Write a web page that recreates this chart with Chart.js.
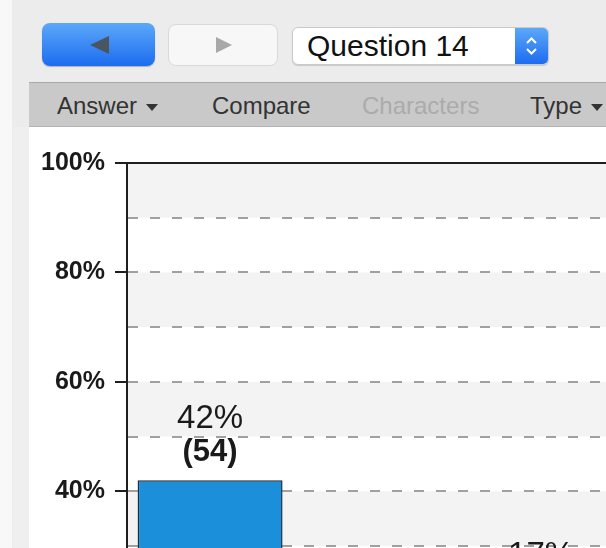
<!DOCTYPE html>
<html>
<head>
<meta charset="utf-8">
<script src="https://cdn.jsdelivr.net/npm/chart.js@4/dist/chart.umd.min.js"></script>
<style>
 html, body { margin: 0; padding: 0; width: 606px; height: 548px; overflow: hidden; background: #f8f8f8; font-family: "Liberation Sans", Arial, sans-serif; }
 .abs { position: absolute; }
 #win { left: 12px; top: 0; width: 594px; height: 548px; background: #ececec; }
 #back { left: 42px; top: 23px; width: 113px; height: 43px; border-radius: 8px; background: linear-gradient(#5ba8f9, #1d6cf0); box-shadow: 0 1px 1px rgba(0,0,0,0.25); }
 #back i { position: absolute; left: 48px; top: 13px; width: 0; height: 0; border-top: 9px solid transparent; border-bottom: 9px solid transparent; border-right: 19px solid #4a5560; }
 #fwd { left: 168px; top: 24px; width: 108px; height: 40px; border-radius: 8px; background: #f7f7f7; border: 1px solid #d9d9d9; }
 #fwd i { position: absolute; left: 47px; top: 12px; width: 0; height: 0; border-top: 8px solid transparent; border-bottom: 8px solid transparent; border-left: 16px solid #a8a8a8; }
 #pick { left: 292px; top: 27px; width: 255px; height: 36px; border-radius: 6px; background: #fff; border: 1px solid #c9c9c9; box-shadow: 0 1px 1px rgba(0,0,0,0.15); overflow: hidden; }
 #pick span { position: absolute; left: 14px; top: 1px; font-size: 30px; color: #111; }
 #pick svg { position: absolute; right: 0; top: 0; }
 #bar { left: 29px; top: 82px; width: 577px; height: 43px; background: #c9c9c9; border-top: 1px solid #a8a8a8; border-bottom: 1px solid #b4b4b4; }
 #bar span { position: absolute; top: 9px; font-size: 24px; color: #333; }
 #bar .off { color: #ababab; }
 .tri { display: inline-block; width: 0; height: 0; border-left: 6px solid transparent; border-right: 6px solid transparent; border-top: 7px solid #333; vertical-align: middle; margin-left: 9px; }
 #side { left: 13px; top: 127px; width: 16px; height: 421px; background: #efefef; }
 #plot { left: 29px; top: 127px; width: 760px; height: 640px; background: #fff; }
</style>
</head>
<body>
<div id="win" class="abs"></div>
<div id="back" class="abs"><i></i></div>
<div id="fwd" class="abs"><i></i></div>
<div id="pick" class="abs"><span>Question 14</span>
 <svg width="33" height="36" viewBox="0 0 33 36">
  <defs><linearGradient id="g" x1="0" y1="0" x2="0" y2="1"><stop offset="0" stop-color="#5ba8f9"/><stop offset="1" stop-color="#1d6cf0"/></linearGradient></defs>
  <rect x="0" y="0" width="33" height="36" fill="url(#g)"/>
  <path d="M12 15 L16.5 10.5 L21 15 M12 21 L16.5 25.5 L21 21" fill="none" stroke="#fff" stroke-width="2"/>
 </svg>
</div>
<div id="bar" class="abs">
 <span style="left:28px">Answer<i class="tri"></i></span>
 <span style="left:183px">Compare</span>
 <span class="off" style="left:333px">Characters</span>
 <span style="left:501px">Type<i class="tri"></i></span>
</div>
<div id="side" class="abs"></div>
<div id="plot" class="abs"><canvas id="chart"></canvas></div>
<script>
const categories = ['Option 1', 'Option 2'];
const percentValues = [42, 17];
const counts = [54, 22];
const labelledTicks = [0, 20, 40, 60, 80, 100];

const font = '"Liberation Sans", Arial, sans-serif';
const xMin = -0.251;
const xMax = 1.749;

// alternating grey bands every 10%
const bands = {
 id: 'bands',
 beforeDraw(chart) {
  const { ctx, chartArea: a, scales: { y } } = chart;
  ctx.save();
  ctx.fillStyle = '#f3f3f3';
  for (let v = 100; v > 0; v -= 20) {
   const top = y.getPixelForValue(v);
   const bot = y.getPixelForValue(v - 10);
   ctx.fillRect(a.left, top, a.right - a.left, bot - top);
  }
  ctx.restore();
 }
};

// percent and count above each bar
const barLabels = {
 id: 'barLabels',
 afterDatasetsDraw(chart) {
  const ctx = chart.ctx;
  chart.getDatasetMeta(0).data.forEach((bar, i) => {
   ctx.save();
   ctx.fillStyle = '#1a1a1a';
   ctx.textAlign = 'center';
   ctx.textBaseline = 'alphabetic';
   ctx.font = '33px ' + font;
   ctx.fillText(percentValues[i] + '%', bar.x, bar.y - 52);
   ctx.font = 'bold 31px ' + font;
   ctx.fillText('(' + counts[i] + ')', bar.x, bar.y - 19);
   ctx.restore();
  });
 }
};

new Chart(document.getElementById('chart'), {
 type: 'bar',
 data: {
  labels: categories,
  datasets: [{
   data: percentValues.map((v, i) => ({ x: i, y: v })),
   backgroundColor: '#1b8fda',
   borderColor: '#1f2d3d',
   borderWidth: 1.5,
   barPercentage: 0.438,
   categoryPercentage: 1
  }]
 },
 options: {
  responsive: true,
  maintainAspectRatio: false,
  animation: false,
  layout: { padding: { top: 36, bottom: 57, left: 0, right: 0 } },
  plugins: { legend: { display: false }, tooltip: { enabled: false } },
  scales: {
   x: {
    type: 'linear', min: xMin, max: xMax, offset: false, display: false,
    ticks: { stepSize: 1, includeBounds: false }
   },
   xTop: {
    type: 'linear', position: 'top', min: xMin, max: xMax, offset: false,
    ticks: { display: false, stepSize: 1, includeBounds: false },
    grid: { display: false, drawTicks: false },
    border: { display: true, color: '#1e1e1e', width: 2 }
   },
   y: {
    min: 0, max: 100,
    ticks: {
     stepSize: 10, autoSkip: false, padding: 10, color: '#1a1a1a',
     font: { family: font, size: 25, weight: 'bold' },
     callback: v => labelledTicks.includes(v) ? v + '%' : ''
    },
    grid: {
     color: c => (c.tick.value === 100 || c.tick.value === 0) ? 'rgba(0,0,0,0)' : '#a0a0a0',
     lineWidth: 2,
     tickLength: 12,
     tickWidth: 2,
     tickColor: c => labelledTicks.includes(c.tick.value) ? '#1e1e1e' : 'rgba(0,0,0,0)'
    },
    border: { color: '#1e1e1e', width: 2, dash: [10, 12] },
    afterFit: s => { s.width = 98; }
   }
  }
 },
 plugins: [bands, barLabels]
});
</script>
</body>
</html>
